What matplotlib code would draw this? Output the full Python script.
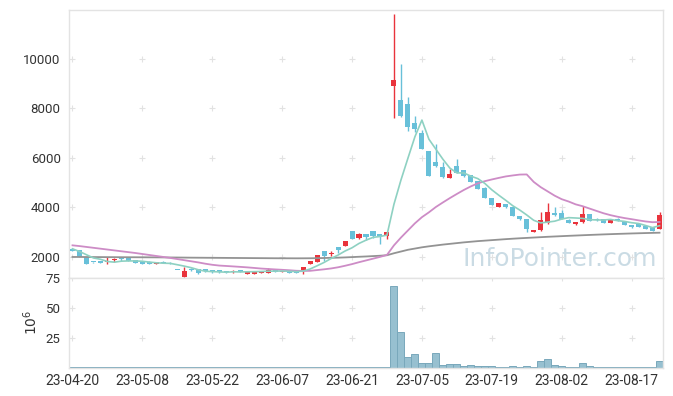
import matplotlib
matplotlib.use('Agg')
import matplotlib.pyplot as plt
from matplotlib import font_manager
import numpy as np
import pandas as pd

# daily candles, 2023-04-20 .. 2023-08-23 (trading days only)
opens = [2335, 2280, 2010, 1790, 1840, 1780, 1860, 1990, 1960, 1860,
         1840, 1810, 1705, 1810, 1770, 1465, 1205, 1515, 1515, 1515,
         1475, 1463, 1410, 1380, 1460, 1325, 1330, 1354, 1366, 1500,
         1380, 1463, 1475, 1450, 1720, 1810, 2230, 2110, 2390, 2444,
         3040, 2780, 2917, 3050, 2917, 2860, 8920, 8343, 8170, 7414,
         7000, 6282, 5838, 5636, 5204, 5676, 5515, 5300, 5083, 4800,
         4396, 4008, 4141, 4032, 3644, 3535, 3022, 3091, 3387, 3790,
         3778, 3483, 3321, 3400, 3737, 3520, 3547, 3387, 3500, 3467,
         3305, 3320, 3240, 3224, 3119]
highs = [2360, 2290, 2010, 1800, 1850, 2010, 1950, 2000, 1970, 1870,
         1850, 1820, 1790, 1820, 1780, 1470, 1610, 1560, 1520, 1520,
         1480, 1470, 1415, 1490, 1470, 1410, 1415, 1440, 1560, 1510,
         1425, 1470, 1480, 1590, 1835, 2075, 2240, 2230, 2400, 2650,
         3050, 2970, 2920, 3060, 2920, 3020, 11805, 9785, 8452, 7710,
         7130, 6290, 6553, 5850, 5555, 5947, 5530, 5310, 5090, 4810,
         4400, 4190, 4150, 4040, 3650, 3540, 3105, 3806, 4169, 4032,
         3900, 3540, 3420, 4048, 3740, 3560, 3550, 3530, 3560, 3470,
         3310, 3330, 3245, 3230, 3806]
lows = [2240, 1990, 1720, 1770, 1750, 1710, 1790, 1850, 1820, 1750,
        1720, 1710, 1700, 1740, 1710, 1455, 1200, 1420, 1300, 1410,
        1370, 1370, 1340, 1340, 1390, 1300, 1320, 1350, 1360, 1400,
        1375, 1360, 1360, 1300, 1715, 1800, 1850, 2040, 2180, 2440,
        2720, 2730, 2680, 2760, 2513, 2715, 7604, 7650, 7090, 7062,
        6350, 5280, 5650, 5180, 5200, 5400, 5250, 5030, 4740, 4390,
        4100, 4000, 3990, 3640, 3480, 3022, 3015, 3030, 3350, 3640,
        3540, 3360, 3300, 3390, 3440, 3440, 3380, 3380, 3440, 3300,
        3180, 3215, 3110, 3050, 3110]
closes = [2255, 2010, 1730, 1780, 1760, 1800, 1880, 1930, 1830, 1760,
          1730, 1717, 1786, 1750, 1720, 1460, 1435, 1463, 1340, 1420,
          1380, 1380, 1400, 1420, 1395, 1405, 1410, 1434, 1487, 1406,
          1420, 1366, 1366, 1585, 1830, 2070, 2040, 2160, 2283, 2646,
          2727, 2917, 2820, 2850, 2820, 3010, 9150, 7709, 7264, 7160,
          6375, 5285, 5690, 5244, 5365, 5406, 5272, 5042, 4747, 4396,
          4113, 4180, 4008, 3656, 3523, 3119, 3100, 3483, 3818, 3709,
          3547, 3387, 3414, 3737, 3454, 3483, 3387, 3520, 3490, 3305,
          3224, 3224, 3119, 3062, 3685]
# volume in millions of shares
volume = [0.1, 0.1, 0.1, 0.1, 0.1, 0.1, 0.1, 0.1, 0.1, 0.1,
          0.1, 0.1, 0.1, 0.1, 0.1, 0.1, 0.1, 0.1, 0.1, 0.1,
          0.1, 0.1, 0.1, 0.1, 0.1, 0.1, 0.1, 0.1, 0.1, 0.1,
          0.1, 0.1, 0.1, 0.2, 0.2, 0.2, 0.2, 0.2, 0.2, 0.2,
          0.2, 0.2, 0.2, 0.2, 0.2, 0.3, 68.3, 29.5, 8.5, 11.3,
          3.8, 3.8, 12.2, 1.8, 2.7, 2.7, 1.3, 1.9, 1.2, 1.2,
          1.2, 0.4, 0.4, 1.3, 0.4, 1.3, 0.4, 5.2, 6.9, 2.1,
          1.0, 0.4, 0.4, 3.5, 1.0, 0.3, 0.3, 0.3, 0.3, 0.3,
          0.3, 0.3, 0.3, 0.3, 5.2]
# moving averages whose window reaches back before the first shown day
ma5_head = [2330, 2220, 2090, 1960]
ma20_head = [2470, 2440, 2405, 2370, 2335, 2300, 2265, 2230, 2195, 2160,
             2120, 2080, 2040, 2000, 1960, 1915, 1870, 1825, 1780]
ma120 = [2000, 2000, 1998, 1996, 1995, 1993, 1992, 1990, 1989, 1988,
         1987, 1985, 1984, 1982, 1980, 1978, 1975, 1972, 1970, 1968,
         1966, 1964, 1962, 1960, 1958, 1956, 1954, 1952, 1950, 1948,
         1947, 1946, 1945, 1946, 1948, 1952, 1958, 1965, 1972, 1982,
         1995, 2008, 2020, 2035, 2050, 2070, 2150, 2220, 2290, 2340,
         2390, 2430, 2465, 2500, 2530, 2560, 2590, 2615, 2640, 2660,
         2680, 2700, 2720, 2738, 2755, 2770, 2785, 2800, 2815, 2828,
         2841, 2854, 2866, 2878, 2890, 2901, 2912, 2922, 2932, 2941,
         2950, 2958, 2966, 2973, 2980]
tick_labels = ['23-04-20', '23-05-08', '23-05-22', '23-06-07', '23-06-21',
               '23-07-05', '23-07-19', '23-08-02', '23-08-17']
price_ticks = [2000, 4000, 6000, 8000, 10000]
vol_ticks = [25, 50, 75]

plt.rcParams['font.family'] = ['Roboto', 'DejaVu Sans']

def has_font(name):
    try:
        font_manager.findfont(name, fallback_to_default=False)
        return True
    except Exception:
        return False

RED = '#e9333c'
BLUE = '#68c0d9'
GRID = '#e2e2e2'
FRAME = '#e3e3e3'
TXT = '#333333'

n = len(closes)
x = np.arange(n)
o = np.array(opens, float)
c = np.array(closes, float)
up = c >= o

ma5 = pd.Series(closes, dtype=float).rolling(5).mean().to_numpy()
ma5[:len(ma5_head)] = ma5_head
ma20 = pd.Series(closes, dtype=float).rolling(20).mean().to_numpy()
ma20[:len(ma20_head)] = ma20_head

fig = plt.figure(figsize=(6.73, 3.96), dpi=100)
ax = fig.add_axes([69/673, 118/396, 594/673, 268/396])
axv = fig.add_axes([69/673, 28.5/396, 594/673, 89.5/396], sharex=ax)

# watermark
wm_font = ['Liberation Sans Narrow', 'DejaVu Sans'] if has_font('Liberation Sans Narrow') else ['DejaVu Sans']
wm_size = 27 if has_font('Liberation Sans Narrow') else 18
ax.text(0.99, 0.025, 'InfoPointer.com', transform=ax.transAxes, ha='right', va='bottom',
        fontsize=wm_size, family=wm_font, color='#bdd3de', alpha=0.8, zorder=0)

# grid crosses
gx, gy = np.meshgrid(np.arange(0, n, 10), price_ticks)
ax.plot(gx.ravel(), gy.ravel(), '+', color=GRID, ms=4.5, mew=0.8, zorder=1)
gx, gy = np.meshgrid(np.arange(0, n, 10), vol_ticks)
axv.plot(gx.ravel(), gy.ravel(), '+', color=GRID, ms=4.5, mew=0.8, zorder=1)

# candles
cols = np.where(up, RED, BLUE)
ax.vlines(x, lows, highs, colors=cols, lw=1, zorder=2)
body = np.maximum(np.abs(c - o), 45)
ax.bar(x, body, bottom=np.minimum(o, c), width=0.72, color=cols, zorder=3)

# moving averages
ax.plot(x, ma120, color='#939393', lw=1.3, zorder=4)
ax.plot(x, ma20, color='#cd8cc6', lw=1.3, zorder=4)
ax.plot(x, ma5, color='#8ed1c2', lw=1.2, zorder=5)

ax.set_xlim(-0.5, n - 0.5)
ax.set_ylim(1150, 11980)
ax.set_yticks(price_ticks)
ax.tick_params(axis='y', length=0, pad=6, labelsize=9.5, labelcolor=TXT)
ax.tick_params(axis='x', length=0, labelbottom=False)

# volume
axv.bar(x, volume, width=1.0, color='#97c0d0', edgecolor='#79a8bb', lw=0.7, zorder=2)
axv.set_ylim(0, 75)
axv.set_yticks(vol_ticks)
axv.set_xticks(np.arange(0, n, 10)[:len(tick_labels)])
axv.set_xticklabels(tick_labels)
axv.tick_params(axis='y', length=0, pad=6, labelsize=9.5, labelcolor=TXT)
axv.tick_params(axis='x', length=0, pad=5, labelsize=10, labelcolor=TXT)
axv.set_ylabel('$10^6$', fontsize=10, color=TXT, labelpad=4)

for a in (ax, axv):
    for s in a.spines.values():
        s.set_color(FRAME)
        s.set_linewidth(1)

fig.savefig('out.png', dpi=100, facecolor='white')
